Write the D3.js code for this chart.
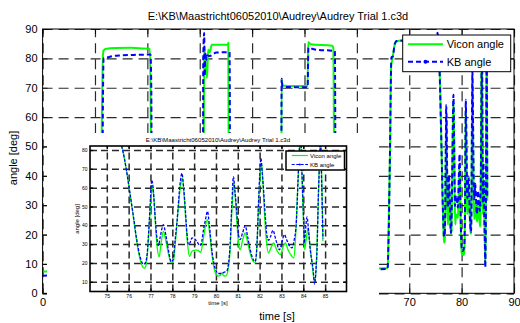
<!DOCTYPE html>
<html><head><meta charset="utf-8">
<script src="https://cdn.jsdelivr.net/npm/d3@7"></script>
<style>
body{margin:0;background:#fff}
svg{display:block}
text{font-family:Arial,"Liberation Sans",sans-serif;fill:#000}
</style>
</head><body>
<svg id="c" width="520" height="323"></svg>
<script>
// ---------------- data ----------------
const chartTitle = "E:\\KB\\Maastricht06052010\\Audrey\\Audrey Trial 1.c3d";
const seriesNames = ["Vicon angle", "KB angle"];
const xLabel = "time [s]";
const yLabel = "angle [deg]";
const mainXTicks = [0,10,20,30,40,50,60,70,80,90];
const mainYTicks = [0,10,20,30,40,50,60,70,80,90];
const insetXTicks = [75,76,77,78,79,80,81,82,83,84,85];
const insetYTicks = [10,20,30,40,50,60,70,80];

const viconTime = [0,3,6,9,11.1,11.3,11.6,12,14,17,19,20.5,20.65,20.85,26,30.7,30.85,31.1,31.4,31.6,31.9,32.3,35.4,35.45,35.6,41,45.55,45.63,45.8,48,50.6,50.7,51.2,55.3,55.5,55.8,60,65.9,66.0,66.3,66.55,66.7,66.85,67.2,67.6,70,74,75.3,75.55,
 75.68,75.91,76.06,76.22,76.37,76.52,76.65,76.72,76.8,76.88,76.97,77.05,77.1,77.16,77.23,77.31,77.4,77.48,77.59,77.7,77.82,77.95,78.05,78.15,78.28,78.38,78.46,78.54,78.62,78.7,78.79,78.9,79.05,79.15,79.3,79.4,79.52,79.61,79.7,79.8,79.9,80.0,80.11,80.2,80.27,80.35,80.45,80.55,80.65,80.73,80.8,80.83,80.9,80.98,81.05,81.11,81.22,81.34,81.45,81.57,81.7,81.8,81.88,81.95,82.02,82.09,82.15,82.22,82.3,82.41,82.5,82.64,82.78,82.95,83.06,83.18,83.3,83.45,83.56,83.63,83.7,83.76,83.82,83.87,83.92,83.97,84.02,84.06,84.14,84.22,84.3,84.4,84.48,84.53,84.6,84.66,84.71,84.76,84.8,84.84,84.87,84.9];
const viconAngle = [7.4,7.5,7.3,7.4,7.3,57,82.5,83.2,83.5,83.6,83.4,83.2,60,7.5,7.4,7.4,84.2,78,73.3,83,82,84.6,84.6,85.3,7.6,7.5,7.5,73,70.8,70.6,70.6,85.6,84.8,84.3,83.5,8.2,8.3,8.6,18,45,78,79,80.5,84.5,85.8,86.3,86.5,86.5,85,
 82,68.5,57,44,31.5,22,17.8,17.2,19,28,45,57,60.6,54,40,28,23.3,30,36.8,32,25,20.2,21,32,50,61,65,56,42,30,23.4,26.2,26.8,26.8,25.6,31,40,43,37,26,18,14,13,13.5,14.7,13.3,13,16,27,48,60,62.4,52,38,29,27,32,35.9,31,25,21,20.2,30,50,66,73,63,47,33,25.3,27.5,30.6,27,24.4,28,30.6,27,24,22.7,30,48,64,80,85,75,55,38,27,33,38.6,30,20,12,10,20,42,63,80,86,70,50,31.5];

const kbTime = [0,5,11.4,11.5,11.65,12.5,13.5,15,18,20.6,20.75,20.9,26,30.6,30.67,30.85,30.95,31.1,31.25,31.4,31.9,33.2,35.7,35.85,41,45.55,45.63,45.8,48,50.6,50.75,52,55.8,56.0,60,65.85,66.05,66.3,66.6,66.9,67.2,67.6,70,74,75.2,75.4,75.55,
 75.68,75.91,76.06,76.22,76.37,76.52,76.62,76.7,76.78,76.85,76.92,76.99,77.06,77.12,77.2,77.28,77.36,77.45,77.59,77.7,77.82,77.95,78.04,78.13,78.21,78.36,78.44,78.52,78.6,78.67,78.74,78.82,78.9,79.0,79.1,79.28,79.36,79.43,79.52,79.61,79.7,79.8,79.9,80.0,80.11,80.25,80.4,80.5,80.58,80.65,80.73,80.8,80.87,80.96,81.03,81.11,81.22,81.34,81.45,81.57,81.7,81.8,81.88,81.95,82.01,82.06,82.12,82.18,82.26,82.34,82.41,82.5,82.61,82.75,82.91,83.02,83.13,83.25,83.38,83.48,83.58,83.68,83.76,83.83,83.88,83.94,84.02,84.05,84.1,84.17,84.25,84.32,84.45,84.52,84.58,84.63,84.7,84.75,84.79,84.83,84.87,84.9];
const kbAngle = [6.0,6.1,6.2,60,80,80.4,80.8,81,81.2,81.3,70,6.5,6.4,6.5,80,88.6,74,81.8,79.5,81,80.8,82,82.1,6.5,6.4,6.5,73.1,70.3,70.2,70.2,83.6,83,82.5,7.8,8.0,8.3,18,45,80.3,80.8,84.7,85.9,86.2,86.8,87,88.7,86,
 82.1,68.5,57,44.7,32.4,23.5,20,19.3,20.5,25,37,52,64,60,47,35,29.2,34,40.3,35,27,20.6,22,32,41.2,62.4,67.6,60,48,36,29.7,31,33.3,33,31.8,29.2,32,37.7,43,47.4,40,28,20,16,14.4,14.5,15.2,15.8,20,30,52,65.9,58,46.5,35,32.4,36,39.8,34,27,22,20.8,30,52,68,75.6,68,58.8,44.7,34,32,34,37.3,32,27,31,35,32,29,28,32,41.2,64,82,87,67.6,41.2,30.6,37,44.4,36,27,16.5,8.8,16,27,58.8,74.7,86,67.6,50,33];

const green = "#00ff00", blue = "#0000ff";
const vicon = viconTime.map((t,i)=>[t, viconAngle[i]]);
const kb = kbTime.map((t,i)=>[t, kbAngle[i]]);

const svg = d3.select("#c");

// the pasted inset figure covers part of the main axes
const overlay = {x:47, y:133, w:332, h:177};

function drawPlot(g, cfg) {
  const x = d3.scaleLinear().domain(cfg.xDomain).range([cfg.left, cfg.right]);
  const y = d3.scaleLinear().domain(cfg.yDomain).range([cfg.bottom, cfg.top]);
  const W = cfg.right - cfg.left, H = cfg.bottom - cfg.top;
  g.append("rect").attr("x",cfg.left).attr("y",cfg.top).attr("width",W).attr("height",H).attr("fill","#fff");
  const gx = g.append("g").attr("transform",`translate(0,${cfg.bottom})`)
    .call(d3.axisBottom(x).tickValues(cfg.xTicks).tickSize(-H).tickFormat(""));
  const gy = g.append("g").attr("transform",`translate(${cfg.left},0)`)
    .call(d3.axisLeft(y).tickValues(cfg.yTicks).tickSize(-W).tickFormat(""));
  [gx,gy].forEach(a=>{
    a.select(".domain").remove();
    a.selectAll("text").remove();
    a.selectAll("line").attr("stroke",cfg.gridColor).attr("stroke-width",cfg.gridWidth).attr("stroke-dasharray",cfg.gridDash);
  });
  const cid = "clip"+cfg.id;
  g.append("clipPath").attr("id",cid).append("rect")
    .attr("x",cfg.left).attr("y",cfg.top).attr("width",W).attr("height",H);
  const line = d3.line().curve(d3.curveMonotoneX).x(d=>x(d[0])).y(d=>y(d[1]));
  const dg = g.append("g").attr("clip-path",`url(#${cid})`);
  dg.append("path").datum(vicon).attr("d",line).attr("fill","none")
    .attr("stroke",green).attr("stroke-width",cfg.lw).attr("stroke-linejoin","round");
  dg.append("path").datum(kb).attr("d",line).attr("fill","none")
    .attr("stroke",blue).attr("stroke-width",cfg.lw).attr("stroke-dasharray",cfg.kbDash).attr("stroke-linejoin","round");
  const xfmt = cfg.xLabelShown ? (d => cfg.xLabelShown(x(d)) ? String(d) : "") : d3.format("d");
  const ab = g.append("g").attr("transform",`translate(0,${cfg.bottom})`)
    .call(d3.axisBottom(x).tickValues(cfg.xTicks).tickSize(-cfg.tick).tickPadding(cfg.xPad).tickFormat(xfmt));
  const al = g.append("g").attr("transform",`translate(${cfg.left},0)`)
    .call(d3.axisLeft(y).tickValues(cfg.yTicks).tickSize(-cfg.tick).tickPadding(cfg.yPad).tickFormat(d3.format("d")));
  const at = g.append("g").attr("transform",`translate(0,${cfg.top})`)
    .call(d3.axisTop(x).tickValues(cfg.xTicks).tickSize(-cfg.tick).tickFormat(""));
  const ar = g.append("g").attr("transform",`translate(${cfg.right},0)`)
    .call(d3.axisRight(y).tickValues(cfg.yTicks).tickSize(-cfg.tick).tickFormat(""));
  [at,ar].forEach(a=>a.selectAll("text").remove());
  ab.selectAll("text").filter(function(){return this.textContent==="";}).remove();
  [ab,al,at,ar].forEach(a=>{
    a.select(".domain").remove();
    a.selectAll("line").attr("stroke","#000").attr("stroke-width",cfg.axisWidth*0.8);
    a.selectAll("text").attr("font-size",cfg.tickFont).attr("font-family","Arial, 'Liberation Sans', sans-serif").attr("fill","#000");
  });
  g.append("rect").attr("x",cfg.left).attr("y",cfg.top).attr("width",W).attr("height",H)
    .attr("fill","none").attr("stroke","#000").attr("stroke-width",cfg.axisWidth);
  return {x,y};
}

// ---------------- main plot ----------------
const main = svg.append("g");
drawPlot(main, {id:"m", left:42.6, right:514, top:29, bottom:293.3,
  xDomain:[0,90], yDomain:[0,90], xTicks:mainXTicks, yTicks:mainYTicks,
  xLabelShown: px => px < overlay.x + 4 || px > overlay.x + overlay.w,
  gridColor:"#2a2a2a", gridWidth:1.2, gridDash:"10,6", lw:2, kbDash:"5,3",
  tick:5, xPad:5, yPad:5, tickFont:"11px", axisWidth:1});

main.append("text").attr("x",278).attr("y",19.5).attr("text-anchor","middle")
  .attr("font-size","11px").text(chartTitle);
main.append("text").attr("transform","translate(17,158) rotate(-90)").attr("text-anchor","middle")
  .attr("font-size","11px").text(yLabel);

const ml = main.append("g");
ml.append("rect").attr("x",402.7).attr("y",35).attr("width",108).attr("height",36.7)
  .attr("fill","#fff").attr("stroke","#000").attr("stroke-width",1);
ml.append("line").attr("x1",408).attr("x2",443).attr("y1",44.3).attr("y2",44.3)
  .attr("stroke",green).attr("stroke-width",2);
ml.append("line").attr("x1",408).attr("x2",443).attr("y1",61.7).attr("y2",61.7)
  .attr("stroke",blue).attr("stroke-width",2).attr("stroke-dasharray","5,3");
ml.append("circle").attr("cx",425.5).attr("cy",61.7).attr("r",2).attr("fill",blue);
ml.append("text").attr("x",446.7).attr("y",48.3).attr("font-size","11px").text(seriesNames[0]);
ml.append("text").attr("x",446.7).attr("y",65.7).attr("font-size","11px").text(seriesNames[1]);

// white overlay (pasted inset figure)
svg.append("rect").attr("x",overlay.x).attr("y",overlay.y).attr("width",overlay.w).attr("height",overlay.h).attr("fill","#fff");

svg.append("text").attr("x",277).attr("y",320).attr("text-anchor","middle")
  .attr("font-size","11px").text(xLabel);

// ---------------- inset plot ----------------
const ins = svg.append("g");
drawPlot(ins, {id:"i", left:90, right:346.5, top:146, bottom:291.5,
  xDomain:[74.23,85.98], yDomain:[4.83,82.13], xTicks:insetXTicks, yTicks:insetYTicks,
  gridColor:"#2a2a2a", gridWidth:1.5, gridDash:"7,4", lw:1.3, kbDash:"3,1.5",
  tick:3, xPad:3, yPad:2.5, tickFont:"5px", axisWidth:1.6});

ins.append("text").attr("x",218).attr("y",142).attr("text-anchor","middle")
  .attr("font-size","6.1px").text(chartTitle);
ins.append("text").attr("transform","translate(78.7,219) rotate(-90)").attr("text-anchor","middle")
  .attr("font-size","6px").text(yLabel);
ins.append("text").attr("x",218).attr("y",305.3).attr("text-anchor","middle")
  .attr("font-size","6px").text(xLabel);

const il = ins.append("g");
il.append("rect").attr("x",286).attr("y",151).attr("width",58.5).attr("height",19)
  .attr("fill","#fff").attr("stroke","#000").attr("stroke-width",1.5);
il.append("line").attr("x1",291.7).attr("x2",308).attr("y1",155.5).attr("y2",155.5)
  .attr("stroke",green).attr("stroke-width",1.2);
il.append("line").attr("x1",291.7).attr("x2",308).attr("y1",164.5).attr("y2",164.5)
  .attr("stroke",blue).attr("stroke-width",1.2).attr("stroke-dasharray","3,1.5");
il.append("circle").attr("cx",299.8).attr("cy",164.5).attr("r",1).attr("fill",blue);
il.append("text").attr("x",310).attr("y",157.6).attr("font-size","6px").text(seriesNames[0]);
il.append("text").attr("x",310).attr("y",166.6).attr("font-size","6px").text(seriesNames[1]);
</script>
</body></html>
